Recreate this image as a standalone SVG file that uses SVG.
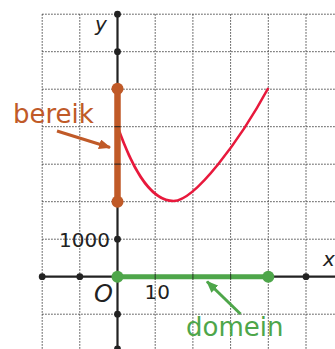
<svg xmlns="http://www.w3.org/2000/svg" width="335" height="349" viewBox="0 0 335 349">
<style>
.grid{stroke:#444;stroke-width:1;stroke-dasharray:1.5,1.5;fill:none}
.axis{stroke:#222;stroke-width:2.2;fill:none}
.dot{fill:#222}
.lbl{font-family:"DejaVu Sans",sans-serif;fill:#222}
.it{font-style:italic}
</style>
<defs>
<marker id="ao" markerWidth="12" markerHeight="10" refX="11" refY="5" orient="auto" markerUnits="userSpaceOnUse"><path d="M0,0 L12,5 L0,10 Z" fill="#c05a28"/></marker>
<marker id="ag" markerWidth="12" markerHeight="10" refX="11" refY="5" orient="auto" markerUnits="userSpaceOnUse"><path d="M0,0 L12,5 L0,10 Z" fill="#4ea64a"/></marker>
</defs>
<rect width="335" height="349" fill="#fff"/>
<g id="grid">
<path class="grid" d="M42.2,14.2V349M79.8,14.2V349M155.2,14.2V349M192.9,14.2V349M230.6,14.2V349M268.3,14.2V349M306,14.2V349"/>
<path class="grid" d="M42.2,14.2H335M42.2,51.7H335M42.2,89.2H335M42.2,126.7H335M42.2,164.2H335M42.2,201.7H335M42.2,239.2H335M42.2,314.2H335"/>
</g>
<g id="axes">
<path class="axis" d="M117.5,14.2V349M42.2,276.7H335"/>
<circle class="dot" cx="117.5" cy="14.2" r="3.4"/>
<circle class="dot" cx="117.5" cy="51.7" r="3.4"/>
<circle class="dot" cx="117.5" cy="239.2" r="3.4"/>
<circle class="dot" cx="117.5" cy="314.2" r="3.4"/>
<circle class="dot" cx="117.5" cy="349" r="3.4"/>
<circle class="dot" cx="42.2" cy="276.7" r="3.4"/>
<circle class="dot" cx="79.8" cy="276.7" r="3.4"/>
<circle class="dot" cx="306" cy="276.7" r="3.4"/>
<text class="lbl it" x="95" y="31" font-size="20">y</text>
<text class="lbl it" x="323" y="266" font-size="20">x</text>
<text class="lbl it" x="94" y="302" font-size="24">O</text>
<text class="lbl" x="110" y="246.5" font-size="20" text-anchor="end">1000</text>
<text class="lbl" x="144.5" y="299" font-size="20">10</text>
</g>
<g id="curve">
<path d="M117.5,126.3 C130,162 148,201 173.5,201 C195,201 240,140 268.3,88" fill="none" stroke="#e8193c" stroke-width="2.6"/>
</g>
<g id="bereik">
<line x1="117.5" y1="88.7" x2="117.5" y2="201.7" stroke="#c05a28" stroke-width="6.5"/>
<circle cx="117.5" cy="88.7" r="6" fill="#c05a28"/>
<circle cx="117.5" cy="201.7" r="6" fill="#c05a28"/>
<path d="M114.5,126.7h6M114.5,164.2h6" stroke="#3a2a20" stroke-width="1.2"/>
<text x="13" y="123" font-family="DejaVu Sans,sans-serif" font-size="26" fill="#c05a28">bereik</text>
</g>
<g id="domein">
<line x1="117.5" y1="276.7" x2="268.3" y2="276.7" stroke="#4ea64a" stroke-width="5"/>
<circle cx="117.5" cy="276.7" r="6" fill="#4ea64a"/>
<circle cx="268.3" cy="276.7" r="6" fill="#4ea64a"/>
<path d="M155.2,274v5.4M192.9,274v5.4M230.6,274v5.4" stroke="#2d4a2a" stroke-width="1.2"/>
<text x="186" y="336" font-family="DejaVu Sans,sans-serif" font-size="26" fill="#4ea64a">domein</text>
</g>
<g id="connectors">
<line x1="57" y1="131" x2="110" y2="147.5" stroke="#c05a28" stroke-width="3" marker-end="url(#ao)"/>
<line x1="240.5" y1="314" x2="207" y2="281.5" stroke="#4ea64a" stroke-width="3" marker-end="url(#ag)"/>
</g>
</svg>
